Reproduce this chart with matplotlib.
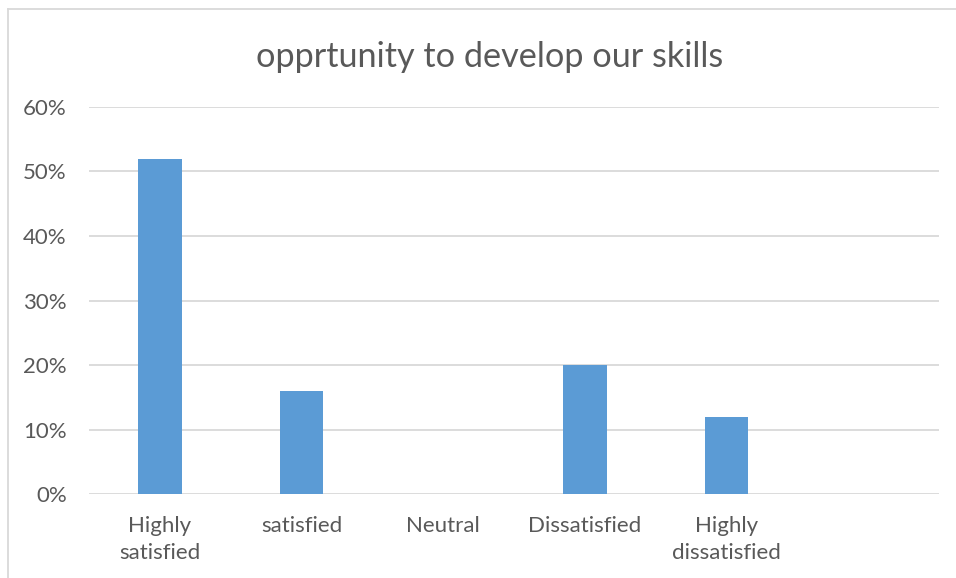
import matplotlib.pyplot as plt
from matplotlib.lines import Line2D
from matplotlib.ticker import PercentFormatter

categories = ["Highly\nsatisfied", "satisfied", "Neutral", "Dissatisfied", "Highly\ndissatisfied", ""]
shares = [0.52, 0.16, 0.0, 0.20, 0.12, None]
yticks = [0.0, 0.1, 0.2, 0.3, 0.4, 0.5, 0.6]

plt.rcParams["font.family"] = ["Lato", "DejaVu Sans"]
text_color = "#595959"

fig = plt.figure(figsize=(9.56, 5.78), dpi=100)
ax = fig.add_axes([0.0931, 0.1453, 0.8891, 0.6696])

xs = list(range(len(categories)))
heights = [v if v is not None else 0 for v in shares]
ax.bar(xs, heights, width=0.31, color="#5B9BD5", zorder=3)

ax.set_xlim(-0.5, len(categories) - 0.5)
ax.set_ylim(0, 0.6)
ax.set_yticks(yticks)
ax.yaxis.set_major_formatter(PercentFormatter(1.0, decimals=0))
ax.set_xticks(xs)
ax.set_xticklabels(categories, linespacing=1.45)
ax.grid(axis="y", color="#D9D9D9", linewidth=1.3, zorder=0)
for side in ("top", "right", "left", "bottom"):
    ax.spines[side].set_visible(False)
ax.tick_params(axis="both", length=0, labelsize=16, colors=text_color)
ax.tick_params(axis="y", pad=16)
ax.tick_params(axis="x", pad=16)

fig.text(0.512, 0.902, "opprtunity to develop our skills", ha="center", va="center",
         fontsize=24.7, color=text_color)

# chart frame (left and top edges)
fig.add_artist(Line2D([8 / 956, 8 / 956], [0, 1 - 9 / 578], transform=fig.transFigure,
                      color="#D9D9D9", linewidth=1.3))
fig.add_artist(Line2D([8 / 956, 1], [1 - 9 / 578, 1 - 9 / 578], transform=fig.transFigure,
                      color="#D9D9D9", linewidth=1.3))

fig.savefig("out.png", dpi=100)
